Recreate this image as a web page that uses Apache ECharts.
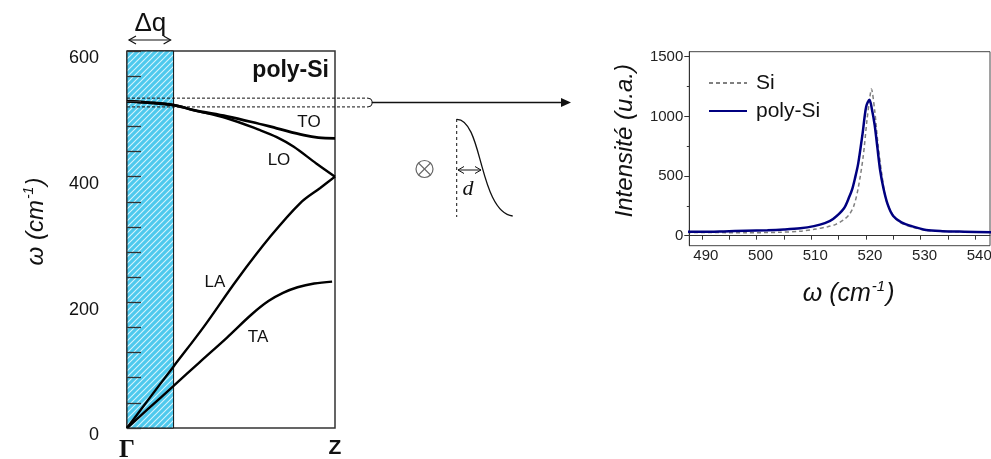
<!DOCTYPE html>
<html><head><meta charset="utf-8">
<script src="https://cdn.jsdelivr.net/npm/echarts@6/dist/echarts.min.js"></script>
<style>html,body{margin:0;padding:0;background:#fff}#c{width:991px;height:459px}</style>
</head><body><div id="c"></div>
<script>
// ---- Left panel: phonon dispersion, q normalised Γ(0) → Z(1), ω in cm-1 ----
const toQ = [0, 0.1, 0.224, 0.32, 0.48, 0.6, 0.72, 0.85, 0.92, 1.0];
const toW = [520, 518, 514, 506, 496, 487, 477, 466, 462, 461];
const loQ = [0, 0.1, 0.224, 0.32, 0.48, 0.64, 0.72, 0.8, 0.91, 1.0];
const loW = [520, 518, 514, 506, 493, 474, 463, 448, 421, 400];
const laQ = [0, 0.1, 0.224, 0.369, 0.529, 0.69, 0.833, 0.929, 1.0];
const laW = [0, 44, 98, 161, 236, 305, 358, 382, 400];
const taQ = [0, 0.1, 0.224, 0.35, 0.481, 0.6, 0.68, 0.75, 0.82, 0.9, 0.986];
const taW = [0, 30, 67, 105, 144, 181, 202, 215, 224, 230, 233];
const dq = 0.224;                 // width of the hatched Δq band
const ramanWindow = [511, 525];   // dashed window around the Γ optical phonon
const leftLabels = [0, 200, 400, 600];
const leftEnds = ['Γ', 'Z'];

// ---- Right panel: Raman spectra ----
const siW = [486, 492, 498, 504, 508, 510.5, 513, 514.5, 516, 517, 517.8, 518.6, 519.5, 520.2, 520.7, 521.0, 521.6, 522.2, 522.9, 523.7, 525, 526.5, 528.5, 531, 535, 543];
const siI = [28, 26, 25, 28, 38, 53, 75, 95, 135, 180, 250, 400, 662, 969, 1150, 1230, 1053, 774, 522, 300, 168, 105, 70, 45, 35, 30];
const pW = [486, 490, 494, 498, 502, 505, 508, 510.5, 512.5, 514, 516, 517, 517.5, 518, 518.6, 519.4, 520.05, 520.66, 521.1, 521.6, 522.1, 522.6, 523.2, 524, 525, 526.5, 528.5, 531, 534, 538, 543];
const pI = [33, 32, 36, 42, 46, 52, 62, 80, 105, 140, 230, 330, 390, 480, 606, 858, 1081, 1140, 1060, 930, 740, 550, 400, 260, 165, 112, 78, 48, 38, 33, 28];
const xLabels = [490, 500, 510, 520, 530, 540];
const xTicks = [490, 495, 500, 505, 510, 515, 520, 525, 530, 535, 540];
const yLabels = [0, 500, 1000, 1500];
const yMinor = [250, 750, 1250];

const pairs = (a, b) => a.map((v, i) => [v, b[i]]);
const SANS = 'Liberation Sans, Arial, sans-serif';

// hatch pattern for the Δq band
const pc = document.createElement('canvas');
pc.width = 6; pc.height = 6;
const g = pc.getContext('2d');
g.fillStyle = '#4ec9ed'; g.fillRect(0, 0, 6, 6);
g.strokeStyle = 'rgba(220,246,253,0.95)'; g.lineWidth = 1.1;
g.beginPath();
g.moveTo(-1, 7); g.lineTo(7, -1);
g.moveTo(-4, 4); g.lineTo(4, -4);
g.moveTo(2, 10); g.lineTo(10, 2);
g.stroke();

const chart = echarts.init(document.getElementById('c'), null, {renderer: 'canvas'});
const blackLine = (w) => ({color: '#000', width: w});
const supName = (base) => '{n|' + base + '}{s|-1}{n|)}';
const nameRich = (fs) => ({n: {fontStyle: 'italic', fontSize: fs, color: '#111', fontFamily: SANS, lineHeight: fs + 4},
                           s: {fontStyle: 'italic', fontSize: Math.round(fs * 0.6), color: '#111', fontFamily: SANS, verticalAlign: 'top', lineHeight: fs + 4, padding: [0, 1, 0, 1]}});

chart.setOption({
  animation: false,
  textStyle: {fontFamily: SANS},
  grid: [
    {left: 127, top: 51, width: 208, height: 377, show: true, borderColor: '#333', borderWidth: 1.5, containLabel: false, outerBoundsMode: 'none'},
    {left: 689.3, top: 51.7, right: 1, bottom: 213.3, show: true, borderColor: '#444', borderWidth: 1, containLabel: false, outerBoundsMode: 'none'}
  ],
  legend: {
    data: ['Si', 'poly-Si'], orient: 'vertical', left: 703, top: 66,
    itemWidth: 38, itemHeight: 12, itemGap: 4,
    itemStyle: {opacity: 0},
    textStyle: {fontSize: 21, lineHeight: 24, color: '#111', fontFamily: SANS, padding: [0, 0, 0, 4]}
  },
  xAxis: [
    {gridIndex: 0, type: 'value', min: 0, max: 1, z: 4,
     axisLine: {show: false}, axisTick: {show: false}, splitLine: {show: false},
     axisLabel: {customValues: [0, 1], margin: 10,
       formatter: v => v === 0 ? '{g|' + leftEnds[0] + '}' : '{z|' + leftEnds[1] + '}',
       rich: {g: {fontFamily: 'Liberation Serif, serif', fontWeight: 'bold', fontSize: 25, color: '#111'},
              z: {fontFamily: SANS, fontWeight: 'bold', fontSize: 21, color: '#111'}}}},
    {gridIndex: 1, type: 'value', min: 487.7, max: 542.7, z: 4,
     axisLine: {show: true, lineStyle: {color: '#333', width: 1}},
     axisTick: {show: true, customValues: xTicks, length: 4, lineStyle: {color: '#333'}},
     axisLabel: {customValues: xLabels, fontSize: 15, color: '#222', margin: 3, padding: [0, 0, 0, 8]},
     splitLine: {show: false},
     name: supName('ω (cm'), nameLocation: 'middle', nameGap: 34,
     nameTextStyle: {padding: [0, 0, 0, 18], rich: nameRich(25)}}
  ],
  yAxis: [
    {gridIndex: 0, type: 'value', min: 0, max: 600, interval: 40, z: 4,
     axisLine: {show: false},
     axisTick: {show: true, inside: true, length: 14, lineStyle: {color: '#333', width: 1.3}},
     axisLabel: {formatter: v => leftLabels.includes(v) ? '{a|' + v + '}' : '', margin: 28,
       rich: {a: {fontSize: 18, color: '#111', fontFamily: SANS, padding: [15, 0, 0, 0]}}},
     splitLine: {show: false},
     name: supName('ω (cm'), nameLocation: 'middle', nameRotate: 90, nameGap: 77,
     nameTextStyle: {padding: [0, 0, 0, 36], rich: nameRich(24)}},
    {gridIndex: 1, type: 'value', min: -84, max: 1542, z: 4, position: 'left',
     axisLine: {show: true, lineStyle: {color: '#333', width: 1}},
     axisTick: {show: true, customValues: yLabels, length: 5, lineStyle: {color: '#333'}},
     axisLabel: {customValues: yLabels, formatter: v => String(v), fontSize: 15, color: '#222', margin: 6},
     splitLine: {show: false},
     name: 'Intensité (u.a.)', nameLocation: 'middle', nameRotate: 90, nameGap: 52,
     nameTextStyle: {fontStyle: 'italic', fontSize: 24, color: '#111', padding: [0, 0, 0, 16]}},
    {gridIndex: 1, type: 'value', min: -84, max: 1542, z: 4, position: 'left', offset: 0,
     axisLine: {show: false},
     axisTick: {show: true, customValues: yMinor, length: 2.5, lineStyle: {color: '#333'}},
     axisLabel: {show: false}, splitLine: {show: false}}
  ],
  series: [
    {name: 'TA', type: 'line', xAxisIndex: 0, yAxisIndex: 0, data: pairs(taQ, taW), symbol: 'none', smooth: 0.35,
     lineStyle: blackLine(2.4), z: 3,
     markArea: {silent: true, itemStyle: {color: {image: pc, repeat: 'repeat'}, borderColor: '#111', borderWidth: 1},
       data: [[{xAxis: 0}, {xAxis: dq}]]}},
    {name: 'LA', type: 'line', xAxisIndex: 0, yAxisIndex: 0, data: pairs(laQ, laW), symbol: 'none', smooth: 0.35, lineStyle: blackLine(2.4), z: 3},
    {name: 'LO', type: 'line', xAxisIndex: 0, yAxisIndex: 0, data: pairs(loQ, loW), symbol: 'none', smooth: 0.35, lineStyle: blackLine(2.4), z: 3},
    {name: 'TO', type: 'line', xAxisIndex: 0, yAxisIndex: 0, data: pairs(toQ, toW), symbol: 'none', smooth: 0.35, lineStyle: blackLine(2.8), z: 3},
    {name: 'Si', type: 'line', xAxisIndex: 1, yAxisIndex: 1, data: pairs(siW, siI), symbol: 'none', showSymbol: false, smooth: 0.3,
     lineStyle: {color: '#808080', width: 1.5, type: [4, 3]}, itemStyle: {color: '#808080'}, z: 3},
    {name: 'poly-Si', type: 'line', xAxisIndex: 1, yAxisIndex: 1, data: pairs(pW, pI), symbol: 'none', showSymbol: false, smooth: 0.3,
     lineStyle: {color: '#000080', width: 2.5}, itemStyle: {color: '#000080'}, z: 4}
  ]
});

// ---- annotations placed from the left panel's scales ----
const P = (q, w) => chart.convertToPixel({gridIndex: 0}, [q, w]);
const [gx0, yTop] = P(0, ramanWindow[1]);
const [, yBot] = P(0, ramanWindow[0]);
const [gx1] = P(1, 0);
const [, y600] = P(0, 600);
const yMid = (yTop + yBot) / 2;
const boxR = gx1 + 36;
const tipX = 571;
const [dqX] = P(dq, 0);
const txt = (x, y, s, o) => ({type: 'text', x, y, z: 20, style: Object.assign({text: s, fill: '#111', font: '17px ' + SANS, align: 'center', verticalAlign: 'middle'}, o || {})});
const ln = (x1, y1, x2, y2, o) => ({type: 'line', z: 20, shape: {x1, y1, x2, y2}, style: Object.assign({stroke: '#111', lineWidth: 1.2}, o || {})});
const pl = (pts, w) => ({type: 'polyline', z: 20, shape: {points: pts}, style: {stroke: '#111', lineWidth: w || 1.2, fill: null}});
const bz = (x1, y1, cpx1, cpy1, cpx2, cpy2, x2, y2) => ({type: 'bezierCurve', z: 20, shape: {x1, y1, cpx1, cpy1, cpx2, cpy2, x2, y2}, style: {stroke: '#111', lineWidth: 1.3, fill: null}});

const ox = 424.5, oy = 169, orad = 8.5, od = orad * 0.707;
const gfx = [
  // dashed Raman window
  ln(gx0, yTop, boxR - 3, yTop, {lineDash: [3, 2], lineWidth: 1}),
  ln(gx0, yBot, boxR - 3, yBot, {lineDash: [3, 2], lineWidth: 1}),
  pl([[boxR - 3, yTop], [boxR, yTop + 1], [boxR + 1, yTop + 3], [boxR + 1, yBot - 3], [boxR, yBot - 1], [boxR - 3, yBot]], 1),
  ln(boxR + 1, yMid, tipX - 9, yMid, {lineWidth: 1.3}),
  {type: 'polygon', z: 20, shape: {points: [[tipX, yMid], [tipX - 10, yMid - 4.5], [tipX - 10, yMid + 4.5]]}, style: {fill: '#111'}},
  // Δq
  txt((gx0 + dqX) / 2, 24, 'Δq', {font: '26px ' + SANS}),
  ln(gx0 + 2, 40, dqX - 3, 40, {lineWidth: 1.2}),
  pl([[gx0 + 9, 36], [gx0 + 2, 40], [gx0 + 9, 44]]),
  pl([[dqX - 10, 36], [dqX - 3, 40], [dqX - 10, 44]]),
  // panel title and branch labels
  txt(gx1 - 6, y600 + 20, 'poly-Si', {font: 'bold 23px ' + SANS, align: 'right'}),
  txt(309, 122, 'TO'), txt(279, 160, 'LO'), txt(215, 282, 'LA'), txt(258, 337, 'TA'),
  // schematic of the grain profile
  {type: 'circle', z: 20, shape: {cx: ox, cy: oy, r: orad}, style: {stroke: '#666', lineWidth: 1.2, fill: null}},
  ln(ox - od, oy - od, ox + od, oy + od, {stroke: '#666', lineWidth: 1.1}),
  ln(ox - od, oy + od, ox + od, oy - od, {stroke: '#666', lineWidth: 1.1}),
  ln(456.7, 119, 456.7, 217, {lineDash: [3, 3], lineWidth: 1}),
  bz(456.7, 119.3, 470, 119, 476, 145, 481, 163),
  bz(481, 163, 486, 181, 494, 214, 512.7, 216),
  ln(458, 170, 481, 170, {lineWidth: 1}),
  pl([[464, 166.5], [458, 170], [464, 173.5]], 1),
  pl([[475, 166.5], [481, 170], [475, 173.5]], 1),
  txt(468, 189, 'd', {font: 'italic 22px Liberation Serif, serif'})
];
chart.setOption({graphic: gfx});
</script>
</body></html>
